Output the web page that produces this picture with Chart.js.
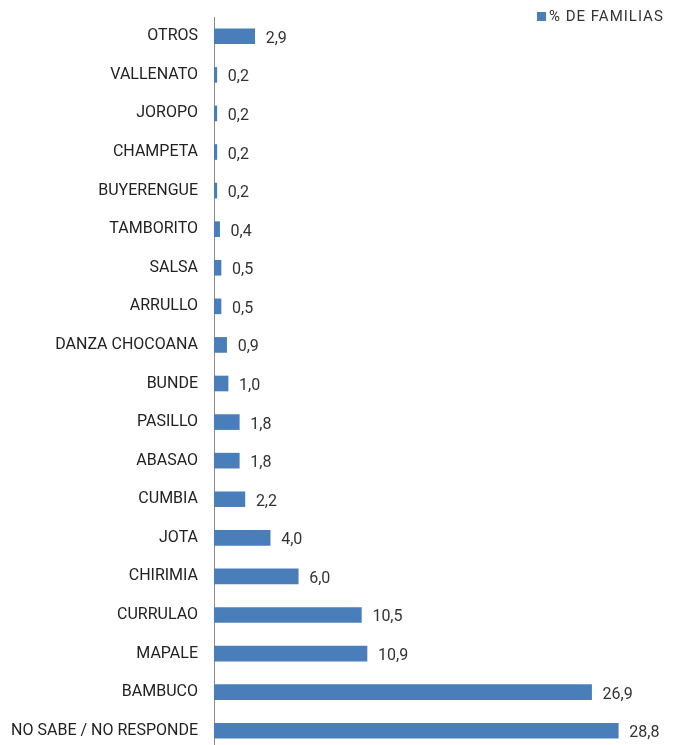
<!DOCTYPE html>
<html>
<head>
<meta charset="utf-8">
<script src="https://cdn.jsdelivr.net/npm/chart.js@4/dist/chart.umd.min.js"></script>
<style>
  html, body { margin: 0; padding: 0; background: #fff; overflow: hidden; }
  #wrap { position: relative; width: 673px; height: 750px; }
  #legend {
    position: absolute; left: 537px; top: 7px;
    font: 15px Roboto, "Open Sans", sans-serif; color: #333; letter-spacing: 1px;
    display: flex; align-items: center; white-space: nowrap;
  }
  #legend span.box { width: 9px; height: 9px; background: #4a7ebb; margin-right: 3px; display: inline-block; }
</style>
</head>
<body>
<div id="wrap">
  <canvas id="chart" width="673" height="750"></canvas>
  <div id="legend"><span class="box"></span>% DE FAMILIAS</div>
</div>
<script>
// categories listed top to bottom
const categories = [
  "OTROS", "VALLENATO", "JOROPO", "CHAMPETA", "BUYERENGUE", "TAMBORITO",
  "SALSA", "ARRULLO", "DANZA CHOCOANA", "BUNDE", "PASILLO", "ABASAO",
  "CUMBIA", "JOTA", "CHIRIMIA", "CURRULAO", "MAPALE", "BAMBUCO",
  "NO SABE / NO RESPONDE"
];
const familias = [2.9, 0.2, 0.2, 0.2, 0.2, 0.4, 0.5, 0.5, 0.9, 1.0, 1.8, 1.8, 2.2, 4.0, 6.0, 10.5, 10.9, 26.9, 28.8];
const seriesName = "% DE FAMILIAS";

const FONT = 'Roboto, "Open Sans", sans-serif';

// value labels at the end of each bar, with a decimal comma
const valueLabels = {
  id: "valueLabels",
  afterDatasetsDraw(chart) {
    const ctx = chart.ctx;
    const meta = chart.getDatasetMeta(0);
    ctx.save();
    ctx.font = "16px " + FONT;
    ctx.fillStyle = "#333";
    ctx.textAlign = "left";
    ctx.textBaseline = "middle";
    meta.data.forEach((bar, i) => {
      const txt = familias[i].toFixed(1).replace(".", ",");
      ctx.fillText(txt, bar.x + 11, bar.y + 2.5);
    });
    ctx.restore();
  }
};

new Chart(document.getElementById("chart"), {
  type: "bar",
  data: {
    labels: categories,
    datasets: [{
      label: seriesName,
      data: familias,
      backgroundColor: "#4a7ebb",
      barThickness: 15
    }]
  },
  options: {
    indexAxis: "y",
    responsive: false,
    animation: false,
    layout: { padding: { top: 17, left: 0, right: 0, bottom: 0 } },
    plugins: {
      legend: { display: false },
      tooltip: { enabled: false }
    },
    scales: {
      x: {
        display: false,
        min: 0,
        max: 32.7
      },
      y: {
        afterFit(scale) {
          scale.width = 214;
          scale.paddingTop = 0;
          scale.paddingBottom = 0;
        },
        grid: { display: false, drawTicks: false },
        border: { display: true, color: "#8c8c8c", width: 1 },
        ticks: {
          padding: 16,
          color: "#222",
          font: { family: FONT, size: 16 }
        }
      }
    }
  },
  plugins: [valueLabels]
});
</script>
</body>
</html>
